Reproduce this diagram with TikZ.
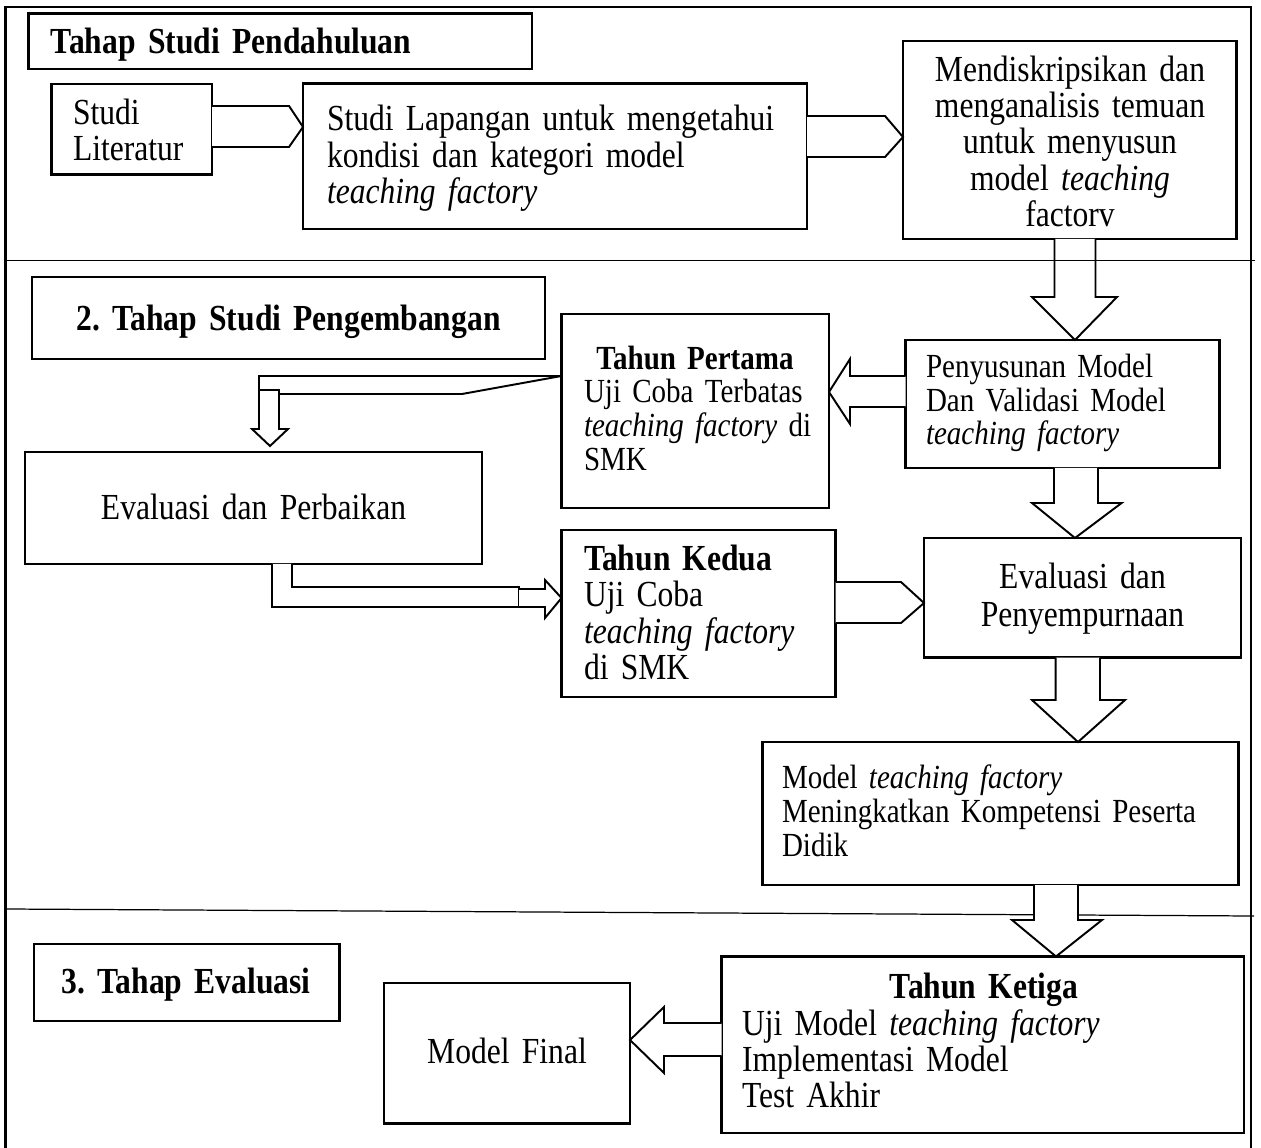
\documentclass[tikz,border=0pt]{standalone}
\usepackage{fontspec}
\setmainfont{Liberation Serif}[FakeStretch=0.86]
\frenchspacing
\newcommand\fs{\fontsize{20.9}{20.6}\selectfont}
\newcommand\fss{\fontsize{19.2}{19.3}\selectfont}
\tikzset{
  box/.style={draw, line width=1.4pt, inner sep=0pt, outer sep=0pt},
  blk/.style={draw, line width=1.1pt, fill=white, line join=miter},
  txt/.style={inner sep=0pt, outer sep=0pt, font=\fs, align=left},
  ctxt/.style={inner sep=0pt, outer sep=0pt, font=\fs, align=center},
  frame/.style={draw, line width=1.3pt},
  divline/.style={draw, line width=0.7pt}
}
\newcommand\bx[5]{\node[box, minimum width={(#4-#2)*0.02cm}, minimum height={(#5-#3)*0.02cm}] (#1) at ({(#2+#4)/2},{(#3+#5)/2}) {};}
\begin{document}
\begin{tikzpicture}[x=0.02cm, y=-0.02cm]
\useasboundingbox (0,0) rectangle (1261,1148);
% frame
\draw[frame] (5.5,1152) -- (5.5,7) -- (1251,7) -- (1251,1152);
\draw[divline] (5.5,909) -- (1254,916);

% boxes
\bx{h1}{28.5}{13.5}{532}{69}
\bx{lit}{51.5}{84}{212}{174.5}
\bx{lap}{303}{83.5}{807}{229}
\bx{desc}{903}{41}{1236.5}{239}
\bx{h2}{32}{277}{545}{359}
\bx{TP}{561.5}{314}{829}{508}
\bx{pen}{905.5}{340}{1219.5}{468}
\bx{evA}{25}{452}{482}{564}
\bx{TK}{561.5}{530}{835.5}{697}
\bx{evB}{924}{538}{1241}{657.5}
\bx{model}{762.7}{742}{1238.5}{885}
\bx{TKt}{721.6}{956.5}{1244}{1133}
\bx{h3}{34}{944}{339.5}{1021}
\bx{final}{384}{983}{630}{1123.5}

% texts
\node[txt, anchor=base west, text width=470*0.02cm] (h1t) at (51,53.5) {\textbf{Tahap Studi Pendahuluan}};
\node[txt, anchor=base west, text width=135*0.02cm] (litt) at (73,124.5) {Studi\\Literatur};
\node[txt, anchor=base west, text width=470*0.02cm] (lapt) at (327,131) {Studi Lapangan untuk mengetahui\\kondisi dan kategori model\\\textit{teaching factory}};
\node[ctxt, anchor=base, text width=320*0.02cm] (desct) at (1070,81.5) {Mendiskripsikan dan\\menganalisis temuan\\untuk menyusun\\model \textit{teaching}\\factorv};
\node[ctxt, anchor=base, text width=500*0.02cm] (h2t) at (288.5,331) {\textbf{2. Tahap Studi Pengembangan}};
\node[ctxt, anchor=base, text width=260*0.02cm, font=\fss] (TPt1) at (695,370) {\textbf{Tahun Pertama}};
\node[txt, anchor=base west, text width=240*0.02cm, font=\fss] (TPt2) at (584,403) {Uji Coba Terbatas\\\textit{teaching factory} di\\SMK};
\node[txt, anchor=base west, text width=290*0.02cm, font=\fontsize{19.2}{19}\selectfont] (pent) at (926,378) {Penyusunan Model\\Dan Validasi Model\\\textit{teaching factory}};
\node[ctxt, anchor=base, text width=440*0.02cm] (evAt) at (253.5,520) {Evaluasi dan Perbaikan};
\node[txt, anchor=base west, text width=250*0.02cm, font=\fontsize{20.9}{20.8}\selectfont] (TKtx) at (584,570) {\textbf{Tahun Kedua}\\Uji Coba\\\textit{teaching factory}\\di SMK};
\node[ctxt, anchor=base, text width=300*0.02cm, font=\fontsize{20.9}{22}\selectfont] (evBt) at (1082.5,588) {Evaluasi dan\\Penyempurnaan};
\node[txt, anchor=base west, text width=450*0.02cm, font=\fontsize{19.2}{19.6}\selectfont] (modelt) at (782,788) {Model \textit{teaching factory}\\Meningkatkan Kompetensi Peserta\\Didik};
\node[ctxt, anchor=base, text width=400*0.02cm] (TKtt1) at (984,998) {\textbf{Tahun Ketiga}};
\node[txt, anchor=base west, text width=480*0.02cm, font=\fontsize{20.9}{20.7}\selectfont] (TKtt2) at (742,1035) {Uji Model \textit{teaching factory}\\Implementasi Model\\Test Akhir};
\node[ctxt, anchor=base, text width=290*0.02cm] (h3t) at (186,993) {\textbf{3. Tahap Evaluasi}};
\node[ctxt, anchor=base, text width=230*0.02cm] (finalt) at (507,1063) {Model Final};

% block arrows
\draw[blk] (lit.east |- 0,106) -- (289,106) -- (lap.west |- 0,127) -- (289,147) -- (lit.east |- 0,147);
\draw[blk] (lap.east |- 0,116) -- (885,116) -- (desc.west |- 0,137) -- (885,157) -- (lap.east |- 0,157);
\draw[blk] (1054.5,0 |- desc.south) -- (1054.5,297) -- (1032,297) -- (1075,0 |- pen.north) -- (1117,297) -- (1095.5,297) -- (1095.5,0 |- desc.south);
\draw[divline] (5.5,260.5) -- (1255,260.5);
\draw[blk] (pen.west |- 0,376) -- (850,376) -- (850,359) -- (TP.east |- 0,392) -- (850,424) -- (850,407) -- (pen.west |- 0,407);
% elbow TP -> evA
\draw[blk, fill=none] (279,394) -- (462,394) -- (TP.west |- 0,376) -- (259,376) -- (259,390);
\draw[blk] (259,390) -- (279,390) -- (279,429) -- (288,429) -- (270,446) -- (252,429) -- (259,429) -- cycle;
\draw[blk] (1054,0 |- pen.south) -- (1054,503) -- (1032,503) -- (1075,0 |- evB.north) -- (1121.6,503) -- (1098,503) -- (1098,0 |- pen.south);
% elbow evA -> TK
\draw[blk] (292,0 |- evA.south) -- (292,587) -- (519,587) -- (519,607) -- (272,607) -- (272,0 |- evA.south);
\draw[blk] (519,589) -- (545,589) -- (545,580) -- (TK.west |- 0,598) -- (545,618) -- (545,607) -- (519,607);
\draw[blk] (TK.east |- 0,582) -- (901,582) -- (evB.west |- 0,603) -- (901,623) -- (TK.east |- 0,623);
\draw[blk] (1055.7,0 |- evB.south) -- (1055.7,700) -- (1032,700) -- (1078,0 |- model.north) -- (1125,700) -- (1100,700) -- (1100,0 |- evB.south);
\draw[blk] (1034,0 |- model.south) -- (1034,920) -- (1012,920) -- (1056,0 |- TKt.north) -- (1102,920) -- (1078,920) -- (1078,0 |- model.south);
\draw[blk] (TKt.west |- 0,1023) -- (664,1023) -- (664,1007) -- (final.east |- 0,1040) -- (664,1073) -- (664,1056) -- (TKt.west |- 0,1056);
\end{tikzpicture}
\end{document}
